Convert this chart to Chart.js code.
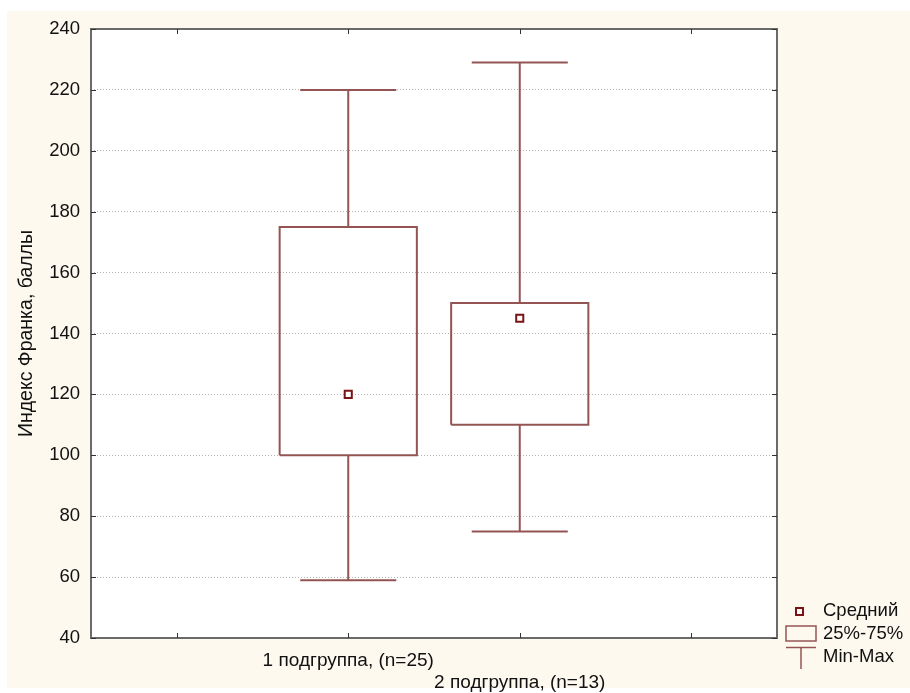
<!DOCTYPE html>
<html>
<head>
<meta charset="utf-8">
<script src="https://cdn.jsdelivr.net/npm/chart.js@4/dist/chart.umd.min.js"></script>
<style>
  html, body { margin: 0; padding: 0; background: #ffffff; }
  #wrap { width: 910px; height: 693px; position: relative; }
</style>
</head>
<body>
<div id="wrap"><canvas id="chart" width="910" height="693"></canvas></div>
<script>
// Box-plot summary per subgroup
const groups   = ['1 подгруппа, (n=25)', '2 подгруппа, (n=13)'];
const groupPos = [2, 3];
const minVals  = [59, 75];
const q1Vals   = [100, 110];
const q3Vals   = [175, 150];
const maxVals  = [220, 229];
const meanVals = [120, 145];
const yTicks   = [40, 60, 80, 100, 120, 140, 160, 180, 200, 220, 240];
const xTicks   = [1, 2, 3, 4];
const legendLabels = ['Средний', '25%-75%', 'Min-Max'];
const yTitle = 'Индекс Франка, баллы';

const FONT = "'Liberation Sans', Arial, sans-serif";
const LINE = '#955454';
const MEAN = '#7a1414';
const BOX_HALF = 0.4;
const CAP_HALF = 0.28;

// One polyline per subgroup: box, upper whisker + cap, lower whisker + cap
function boxPath(i) {
  const x = groupPos[i];
  const gap = { x: x, y: null };
  return [
    { x: x - BOX_HALF, y: q1Vals[i] }, { x: x + BOX_HALF, y: q1Vals[i] },
    { x: x + BOX_HALF, y: q3Vals[i] }, { x: x - BOX_HALF, y: q3Vals[i] },
    { x: x - BOX_HALF, y: q1Vals[i] }, gap,
    { x: x, y: q3Vals[i] }, { x: x, y: maxVals[i] }, gap,
    { x: x - CAP_HALF, y: maxVals[i] }, { x: x + CAP_HALF, y: maxVals[i] }, gap,
    { x: x, y: q1Vals[i] }, { x: x, y: minVals[i] }, gap,
    { x: x - CAP_HALF, y: minVals[i] }, { x: x + CAP_HALF, y: minVals[i] }
  ];
}

const datasets = [{
  label: legendLabels[0],
  data: groupPos.map((x, i) => ({ x: x, y: meanVals[i] })),
  showLine: false,
  pointStyle: 'rect',
  pointRadius: 5,
  pointBorderWidth: 2,
  pointBorderColor: MEAN,
  pointBackgroundColor: '#ffffff'
}];
groupPos.forEach((x, i) => {
  datasets.push({
    label: groups[i],
    data: boxPath(i),
    showLine: true,
    spanGaps: false,
    pointRadius: 0,
    borderColor: LINE,
    borderWidth: 2,
    fill: false
  });
});

// Panel background, framed plot area with inward ticks, and the legend
const decor = {
  id: 'decor',
  beforeDraw(chart) {
    const { ctx, chartArea: a } = chart;
    ctx.save();
    ctx.fillStyle = '#fdf9ef';
    ctx.fillRect(7, 11, 903, 677);
    ctx.fillStyle = '#ffffff';
    ctx.fillRect(a.left, a.top, a.right - a.left, a.bottom - a.top);
    ctx.restore();
  },
  afterDraw(chart) {
    const { ctx, chartArea: a, scales } = chart;
    ctx.save();
    ctx.strokeStyle = '#6a6a6a';
    ctx.lineWidth = 2;
    ctx.strokeRect(a.left, a.top, a.right - a.left, a.bottom - a.top);
    ctx.lineWidth = 1;
    ctx.strokeStyle = '#333333';
    ctx.beginPath();
    xTicks.forEach(v => {
      const px = Math.round(scales.x.getPixelForValue(v)) + 0.5;
      ctx.moveTo(px, a.bottom); ctx.lineTo(px, a.bottom - 5);
      ctx.moveTo(px, a.top); ctx.lineTo(px, a.top + 5);
    });
    yTicks.forEach(v => {
      const py = Math.round(scales.y.getPixelForValue(v)) + 0.5;
      ctx.moveTo(a.left, py); ctx.lineTo(a.left + 5, py);
      ctx.moveTo(a.right, py); ctx.lineTo(a.right - 5, py);
    });
    ctx.stroke();

    // legend
    ctx.font = '18.5px ' + FONT;
    ctx.fillStyle = '#111111';
    ctx.textBaseline = 'middle';
    ctx.textAlign = 'left';
    ctx.fillText(legendLabels[0], 823, 611);
    ctx.fillText(legendLabels[1], 823, 634);
    ctx.fillText(legendLabels[2], 823, 657);

    ctx.strokeStyle = MEAN;
    ctx.lineWidth = 2;
    ctx.fillStyle = '#ffffff';
    ctx.fillRect(796, 608, 7, 7);
    ctx.strokeRect(796, 608, 7, 7);

    ctx.strokeStyle = LINE;
    ctx.lineWidth = 1.5;
    ctx.strokeRect(786, 626, 30, 15);
    ctx.beginPath();
    ctx.moveTo(786, 647.5); ctx.lineTo(816, 647.5);
    ctx.moveTo(801, 647.5); ctx.lineTo(801, 669);
    ctx.stroke();
    ctx.restore();
  }
};

new Chart(document.getElementById('chart'), {
  type: 'scatter',
  data: { datasets: datasets },
  options: {
    responsive: false,
    animation: false,
    layout: { padding: { left: 0, top: 29, right: 133, bottom: 0 } },
    plugins: { legend: { display: false }, tooltip: { enabled: false } },
    scales: {
      x: {
        type: 'linear',
        min: 0.5,
        max: 4.5,
        afterBuildTicks: s => { s.ticks = xTicks.map(v => ({ value: v })); },
        afterFit: s => { s.height = 55; },
        grid: { display: false, drawTicks: false },
        border: { display: false },
        ticks: {
          autoSkip: false,
          maxRotation: 0,
          padding: 11,
          color: '#111111',
          font: { family: FONT, size: 19, lineHeight: 1.2 },
          callback: v => {
            const i = groupPos.indexOf(v);
            if (i < 0) return '';
            return i === 0 ? [groups[i], ''] : ['', groups[i]];
          }
        }
      },
      y: {
        min: 40,
        max: 240,
        afterBuildTicks: s => { s.ticks = yTicks.map(v => ({ value: v })); },
        afterFit: s => { s.width = 91; },
        grid: { color: '#b4b4b4', drawTicks: false, lineWidth: 1 },
        border: { display: false, dash: [1, 2] },
        ticks: {
          padding: 11,
          color: '#111111',
          font: { family: FONT, size: 18.5 }
        },
        title: {
          display: true,
          text: yTitle,
          color: '#111111',
          font: { family: FONT, size: 19.5 },
          padding: { top: 15, bottom: 0 }
        }
      }
    }
  },
  plugins: [decor]
});
</script>
</body>
</html>
